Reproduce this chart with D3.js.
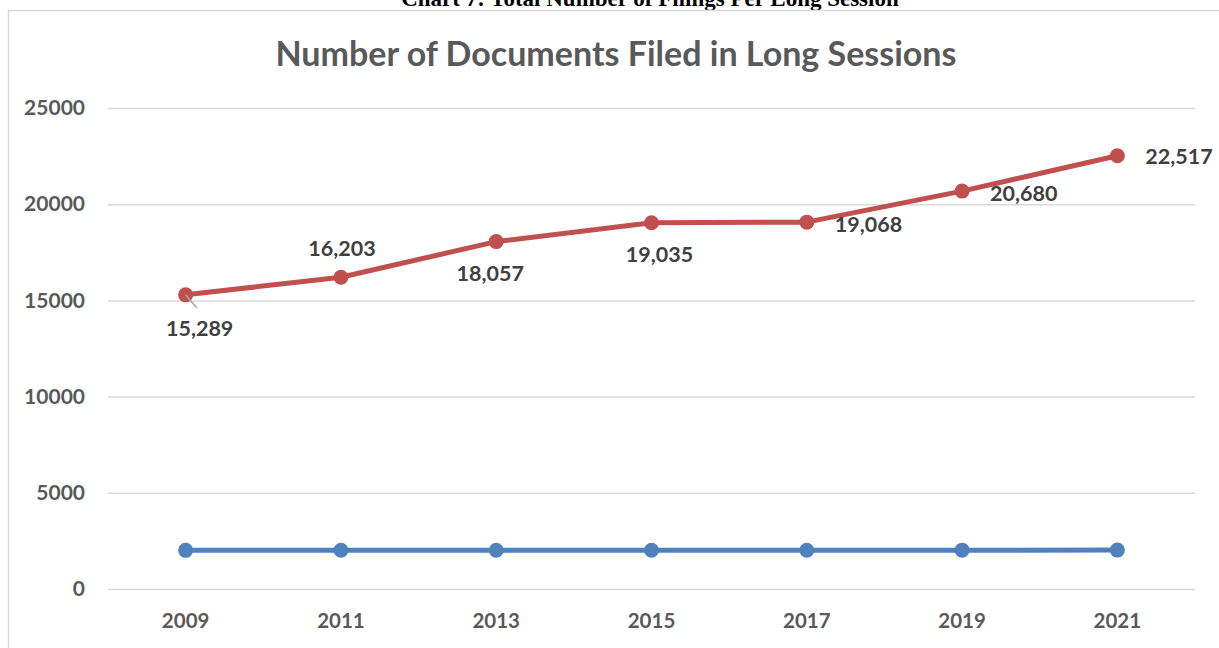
<!DOCTYPE html>
<html>
<head>
<meta charset="utf-8">
<script src="https://cdn.jsdelivr.net/npm/d3@7"></script>
<style>
  body { margin: 0; background: #fff; }
  svg { display: block; }
</style>
</head>
<body>
<div id="chart"></div>
<script>
// data
const years = ["2009", "2011", "2013", "2015", "2017", "2019", "2021"]
const filings = [15289, 16203, 18057, 19035, 19068, 20680, 22517]
const yearSeries = [2009, 2011, 2013, 2015, 2017, 2019, 2021]
const yTicks = [0, 5000, 10000, 15000, 20000, 25000]
// label placement for each red point: dx, dy, anchor
const labelPos = [
  { dx: 14, dy: 41, anchor: "middle" },
  { dx: 1, dy: -21, anchor: "middle" },
  { dx: -6, dy: 39, anchor: "middle" },
  { dx: 8, dy: 39, anchor: "middle" },
  { dx: 28, dy: 10, anchor: "start" },
  { dx: 28, dy: 10, anchor: "start" },
  { dx: 28, dy: 8, anchor: "start" },
]

const width = 1219, height = 648
const margin = { top: 108, left: 108 }
const boundedWidth = 1195 - margin.left
const boundedHeight = 589 - margin.top

const svg = d3.select("#chart").append("svg")
  .attr("width", width)
  .attr("height", height)

// caption above the chart box (cut off at top like the source)
svg.append("text")
  .attr("x", 650).attr("y", 6)
  .attr("text-anchor", "middle")
  .attr("font-family", "'Liberation Serif', serif")
  .attr("font-weight", "bold")
  .attr("font-size", 23)
  .attr("fill", "#000")
  .text("Chart 7:  Total Number of Filings Per Long Session")

// chart box
svg.append("rect")
  .attr("x", 8.5).attr("y", 10.5)
  .attr("width", 1230).attr("height", 660)
  .attr("fill", "#fff")
  .attr("stroke", "#d9d9d9")
  .attr("stroke-width", 1.5)

svg.append("text")
  .attr("x", 616).attr("y", 66)
  .attr("text-anchor", "middle")
  .attr("font-family", "Lato, 'Open Sans', sans-serif")
  .attr("font-weight", "bold")
  .attr("font-size", 34)
  .attr("fill", "#595959")
  .text("Number of Documents Filed in Long Sessions")

const bounds = svg.append("g")
  .attr("transform", `translate(${margin.left},${margin.top})`)

const xScale = d3.scaleBand()
  .domain(years)
  .range([0, boundedWidth])

const yScale = d3.scaleLinear()
  .domain([0, 25000])
  .range([boundedHeight, 0])

// gridlines
bounds.append("g")
  .call(d3.axisLeft(yScale).tickValues(yTicks).tickSize(-boundedWidth).tickFormat(""))
  .call(g => g.select(".domain").remove())
  .call(g => g.selectAll("line").attr("stroke", "#d9d9d9").attr("stroke-width", 1.5))

// y labels
bounds.append("g")
  .call(d3.axisLeft(yScale).tickValues(yTicks).tickSize(0).tickPadding(23).tickFormat(d3.format("d")))
  .call(g => g.select(".domain").remove())
  .call(g => g.selectAll("text")
    .attr("font-family", "Lato, 'Open Sans', sans-serif")
    .attr("font-weight", "bold")
    .attr("font-size", 21)
    .attr("fill", "#595959"))

// x labels
bounds.append("g")
  .attr("transform", `translate(0,${boundedHeight})`)
  .call(d3.axisBottom(xScale).tickSize(0).tickPadding(24))
  .call(g => g.select(".domain").remove())
  .call(g => g.selectAll("text")
    .attr("font-family", "Lato, 'Open Sans', sans-serif")
    .attr("font-weight", "bold")
    .attr("font-size", 20.5)
    .attr("fill", "#595959"))

const cx = i => xScale(years[i]) + xScale.bandwidth() / 2

const line = d3.line()
  .x((d, i) => cx(i))
  .y(d => yScale(d))

function drawSeries(values, color) {
  bounds.append("path")
    .attr("d", line(values))
    .attr("fill", "none")
    .attr("stroke", color)
    .attr("stroke-width", 5)
    .attr("stroke-linejoin", "round")
  bounds.append("g").selectAll("circle")
    .data(values)
    .join("circle")
      .attr("cx", (d, i) => cx(i))
      .attr("cy", d => yScale(d))
      .attr("r", 7.5)
      .attr("fill", color)
}

drawSeries(yearSeries, "#4f81bd")
drawSeries(filings, "#c0504d")

// leader line for first label
bounds.append("line")
  .attr("x1", cx(0)).attr("y1", yScale(filings[0]))
  .attr("x2", cx(0) + 11).attr("y2", yScale(filings[0]) + 13)
  .attr("stroke", "#a6a6a6")
  .attr("stroke-width", 1.5)

bounds.append("g").selectAll("text")
  .data(filings)
  .join("text")
    .attr("x", (d, i) => cx(i) + labelPos[i].dx)
    .attr("y", (d, i) => yScale(d) + labelPos[i].dy)
    .attr("text-anchor", (d, i) => labelPos[i].anchor)
    .attr("font-family", "Lato, 'Open Sans', sans-serif")
    .attr("font-weight", "bold")
    .attr("font-size", 21.5)
    .attr("fill", "#404040")
    .text(d => d3.format(",")(d))
</script>
</body>
</html>
